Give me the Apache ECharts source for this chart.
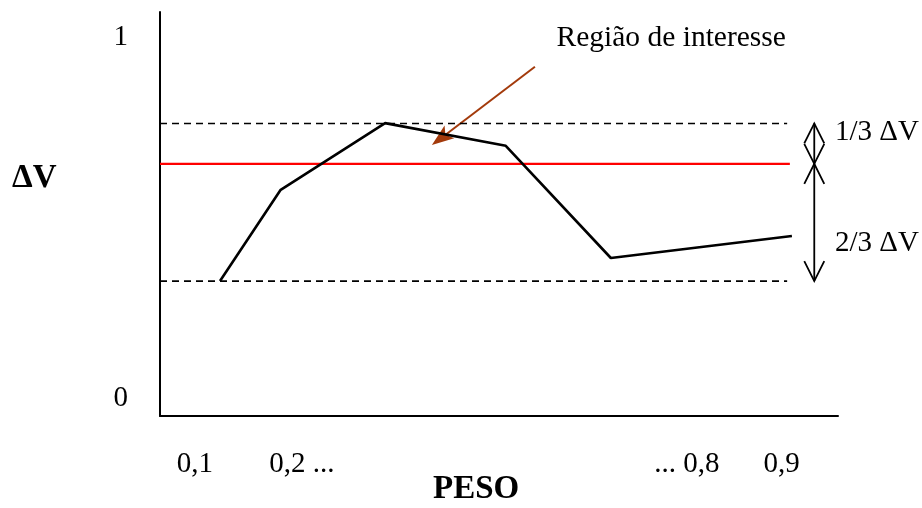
<!DOCTYPE html>
<html>
<head>
<meta charset="utf-8">
<script src="https://cdn.jsdelivr.net/npm/echarts@6/dist/echarts.min.js"></script>
<style>html,body{margin:0;padding:0;background:#fff}#c{width:922px;height:508px}</style>
</head>
<body>
<div id="c"></div>
<script>
// ---- data ----
var curveX = [0.0885, 0.178, 0.332, 0.510, 0.665, 0.932];
var curveY = [0.324, 0.577, 0.762, 0.699, 0.388, 0.449];
var upperLevel = 0.761;
var lowerLevel = 0.324;
var redLevel = 0.649;
var levelStartX = 0;
var dashedEndX = 0.925;
var redEndX = 0.929;
var xTickValues = [0.0516, 0.2094, 0.777, 0.917];
var xTickLabels = ['0,1', '0,2 ...', '... 0,8', '0,9'];
var yTickValues = [0, 1];
var yTickLabels = ['0', '1'];
var spanArrowX = 0.965;
var spanArrows = [[upperLevel, redLevel], [redLevel, lowerLevel]];
var spanLabels = ['1/3 \u0394V', '2/3 \u0394V'];
var spanLabelX = 0.9956;
var spanLabelY = [0.7375, 0.4297];
var pointerFrom = [0.553, 0.918];
var pointerTo = [0.401, 0.701];
var pointerText = 'Regi\u00e3o de interesse';
var pointerTextPos = [0.754, 0.998];
var xTitle = 'PESO';
var yTitle = '\u0394V';

var FONT = '"Liberation Serif", "Times New Roman", serif';
var chart = echarts.init(document.getElementById('c'));

function pairs(xs, ys) { return xs.map(function (x, i) { return [x, ys[i]]; }); }

var option = {
  animation: false,
  backgroundColor: '#fff',
  grid: { left: 160, top: 12, width: 678, height: 404, containLabel: false },
  xAxis: {
    type: 'value', min: 0, max: 1,
    axisLine: { show: true, onZero: false, lineStyle: { color: '#000', width: 2 } },
    axisTick: { show: false },
    splitLine: { show: false },
    axisLabel: {
      customValues: xTickValues,
      formatter: function (v) { var i = xTickValues.indexOf(v); return i >= 0 ? xTickLabels[i] : ''; },
      fontFamily: FONT, fontSize: 29, color: '#000', margin: 34
    }
  },
  yAxis: {
    type: 'value', min: -0.05, max: 1.07,
    axisLine: { show: true, onZero: false, lineStyle: { color: '#000', width: 2 } },
    axisTick: { show: false },
    splitLine: { show: false },
    axisLabel: {
      customValues: yTickValues,
      formatter: function (v) { var i = yTickValues.indexOf(v); return i >= 0 ? yTickLabels[i] : ''; },
      fontFamily: FONT, fontSize: 29, color: '#000', margin: 32
    }
  },
  graphic: [
    { type: 'text', left: 433, top: 473, style: { text: xTitle, font: 'bold 33px ' + FONT, fill: '#000' } },
    { type: 'text', left: 12, top: 162, style: { text: yTitle, font: 'bold 33px ' + FONT, fill: '#000' } }
  ],
  series: [
    {
      type: 'line', data: [[levelStartX, upperLevel], [dashedEndX, upperLevel]],
      symbol: 'none', lineStyle: { color: '#000', width: 1.6, type: [7, 5] }, silent: true
    },
    {
      type: 'line', data: [[levelStartX, lowerLevel], [dashedEndX, lowerLevel]],
      symbol: 'none', lineStyle: { color: '#000', width: 1.6, type: [7, 5] }, silent: true
    },
    {
      type: 'line', data: [[levelStartX, redLevel], [redEndX, redLevel]],
      symbol: 'none', lineStyle: { color: '#ff0000', width: 2.2 }, silent: true
    },
    {
      type: 'line', data: pairs(curveX, curveY),
      symbol: 'none', lineStyle: { color: '#000', width: 2.6 }, silent: true
    },
    {
      // double-headed span arrows
      type: 'custom', clip: false, silent: true,
      data: spanArrows.map(function (a) { return [spanArrowX, a[0], a[1]]; }),
      renderItem: function (params, api) {
        var p1 = api.coord([api.value(0), api.value(1)]);
        var p2 = api.coord([api.value(0), api.value(2)]);
        var hw = 10, hl = 20;
        var st = { stroke: '#000', lineWidth: 1.8, fill: null };
        return {
          type: 'group', children: [
            { type: 'line', shape: { x1: p1[0], y1: p1[1], x2: p2[0], y2: p2[1] }, style: st },
            { type: 'polyline', shape: { points: [[p1[0] - hw, p1[1] + hl], [p1[0], p1[1]], [p1[0] + hw, p1[1] + hl]] }, style: st },
            { type: 'polyline', shape: { points: [[p2[0] - hw, p2[1] - hl], [p2[0], p2[1]], [p2[0] + hw, p2[1] - hl]] }, style: st }
          ]
        };
      }
    },
    {
      // span labels
      type: 'custom', clip: false, silent: true,
      data: spanLabelY.map(function (y, i) { return [spanLabelX, y, i]; }),
      renderItem: function (params, api) {
        var p = api.coord([api.value(0), api.value(1)]);
        return {
          type: 'text', x: p[0], y: p[1],
          style: { text: spanLabels[api.value(2)], font: '29px ' + FONT, fill: '#000', align: 'left', verticalAlign: 'middle' }
        };
      }
    },
    {
      // pointer arrow + text
      type: 'custom', clip: false, silent: true,
      data: [[pointerFrom[0], pointerFrom[1], pointerTo[0], pointerTo[1], pointerTextPos[0], pointerTextPos[1]]],
      renderItem: function (params, api) {
        var a = api.coord([api.value(0), api.value(1)]);
        var b = api.coord([api.value(2), api.value(3)]);
        var t = api.coord([api.value(4), api.value(5)]);
        var dx = b[0] - a[0], dy = b[1] - a[1];
        var len = Math.sqrt(dx * dx + dy * dy);
        var ux = dx / len, uy = dy / len;
        var hl = 22, hw = 8;
        var bx = b[0] - ux * hl, by = b[1] - uy * hl;
        var col = '#a33a0b';
        return {
          type: 'group', children: [
            { type: 'line', shape: { x1: a[0], y1: a[1], x2: bx + ux * 4, y2: by + uy * 4 }, style: { stroke: col, lineWidth: 2 } },
            { type: 'polygon', shape: { points: [[b[0], b[1]], [bx - uy * hw, by + ux * hw], [bx + ux * 5, by + uy * 5], [bx + uy * hw, by - ux * hw]] }, style: { fill: col } },
            { type: 'text', x: t[0], y: t[1], style: { text: pointerText, font: '29.5px ' + FONT, fill: '#000', align: 'center', verticalAlign: 'middle' } }
          ]
        };
      }
    }
  ]
};
chart.setOption(option);
</script>
</body>
</html>
